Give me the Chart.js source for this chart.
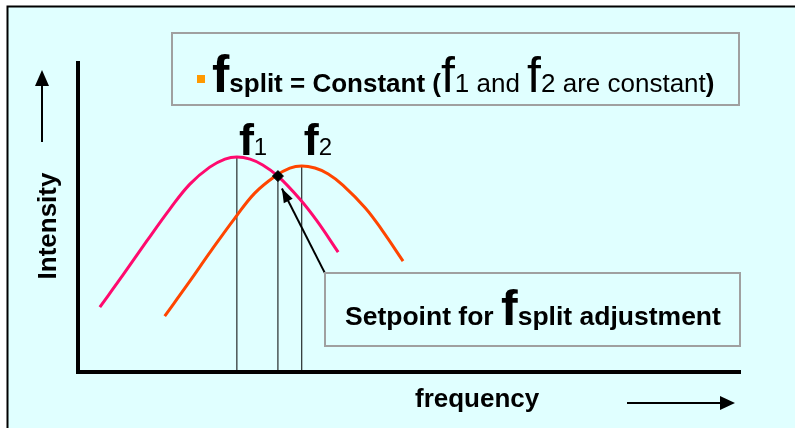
<!DOCTYPE html>
<html>
<head>
<meta charset="utf-8">
<script src="https://cdn.jsdelivr.net/npm/chart.js@4.4.0/dist/chart.umd.min.js"></script>
<style>
  html, body { margin: 0; padding: 0; background: #fff; }
  #wrap { width: 795px; height: 428px; }
</style>
</head>
<body>
<div id="wrap"><canvas id="c" width="795" height="428"></canvas></div>
<script>
// frequency / intensity in arbitrary units (0..100)
const f1CurveX = [3.3, 6.8, 10.4, 13.9, 16.9, 19.9, 22.2, 24.0, 26.0, 27.9, 30.2, 33.5, 36.1, 39.3];
const f1CurveY = [21.0, 31.4, 42.4, 52.8, 60.8, 66.3, 68.9, 69.6, 68.9, 67.0, 63.4, 56.0, 48.9, 38.8];
const f2CurveX = [13.1, 16.6, 20.2, 23.7, 26.7, 29.8, 32.0, 33.8, 35.8, 37.8, 40.0, 43.4, 45.9, 49.1];
const f2CurveY = [18.1, 28.5, 39.5, 49.8, 57.9, 63.4, 66.0, 66.7, 66.0, 64.1, 60.5, 53.1, 46.0, 35.9];

const f1 = { x: 24.0, y: 69.6 };
const f2 = { x: 33.8, y: 66.7 };
const setpoint = { x: 30.2, y: 63.4 };
const arrowTail = { x: 37.3, y: 32.0 };
const arrowTip = { x: 30.8, y: 59.4 };

const toPoints = (xs, ys) => xs.map((x, i) => ({ x: x, y: ys[i] }));
const stem = p => [{ x: p.x, y: 0 }, { x: p.x, y: p.y }];

const FONT = '"Liberation Sans", Arial, sans-serif';

function drawRuns(ctx, x, y, runs) {
    ctx.textBaseline = 'alphabetic';
    ctx.textAlign = 'left';
    runs.forEach(r => {
        ctx.font = r.font + ' ' + FONT;
        ctx.fillText(r.t, x, y);
        x += ctx.measureText(r.t).width;
    });
    return x;
}

function arrowHead(ctx, x1, y1, x2, y2, len, half) {
    const a = Math.atan2(y2 - y1, x2 - x1);
    ctx.beginPath();
    ctx.moveTo(x2, y2);
    ctx.lineTo(x2 - len * Math.cos(a) + half * Math.sin(a), y2 - len * Math.sin(a) - half * Math.cos(a));
    ctx.lineTo(x2 - len * Math.cos(a) - half * Math.sin(a), y2 - len * Math.sin(a) + half * Math.cos(a));
    ctx.closePath();
    ctx.fill();
}

function box(ctx, x, y, w, h) {
    ctx.fillStyle = '#e0ffff';
    ctx.fillRect(x, y, w, h);
    ctx.strokeStyle = '#a0a0a0';
    ctx.lineWidth = 2;
    ctx.strokeRect(x, y, w, h);
}

const slidePlugin = {
    id: 'slide',
    beforeDraw(chart) {
        const ctx = chart.ctx;
        ctx.save();
        ctx.fillStyle = '#fff';
        ctx.fillRect(0, 0, chart.width, chart.height);
        ctx.fillStyle = '#e0ffff';
        ctx.fillRect(8, 7, chart.width - 8, chart.height - 7);
        ctx.strokeStyle = '#000';
        ctx.lineWidth = 2;
        ctx.beginPath();
        ctx.moveTo(7.5, chart.height);
        ctx.lineTo(7.5, 6.5);
        ctx.lineTo(chart.width, 6.5);
        ctx.stroke();
        ctx.restore();
    },
    afterDatasetsDraw(chart) {
        const ctx = chart.ctx;
        const xs = chart.scales.x, ys = chart.scales.y;
        ctx.save();
        ctx.fillStyle = '#000';

        // peak labels
        drawRuns(ctx, xs.getPixelForValue(f1.x) + 2, ys.getPixelForValue(f1.y) - 2,
            [{ t: 'f', font: 'bold 45px' }, { t: '1', font: '24px' }]);
        drawRuns(ctx, xs.getPixelForValue(f2.x) + 2, ys.getPixelForValue(f2.y) - 11,
            [{ t: 'f', font: 'bold 45px' }, { t: '2', font: '24px' }]);

        // top box
        box(ctx, 172, 33, 567, 72);
        ctx.fillStyle = '#ff9900';
        ctx.fillRect(197, 75, 8, 8);
        ctx.fillStyle = '#000';
        drawRuns(ctx, 212, 92, [
            { t: 'f', font: 'bold 52px' },
            { t: 'split', font: 'bold 26px' },
            { t: ' = Constant (', font: 'bold 26px' },
            { t: 'f', font: '50px' },
            { t: '1 and ', font: '26px' },
            { t: 'f', font: '50px' },
            { t: '2 are constant', font: '26px' },
            { t: ')', font: 'bold 26px' }
        ]);

        // setpoint box + arrow
        const tx = xs.getPixelForValue(arrowTail.x), ty = ys.getPixelForValue(arrowTail.y);
        const hx = xs.getPixelForValue(arrowTip.x), hy = ys.getPixelForValue(arrowTip.y);
        ctx.strokeStyle = '#000';
        ctx.lineWidth = 2;
        ctx.beginPath();
        ctx.moveTo(tx, ty);
        ctx.lineTo(hx, hy);
        ctx.stroke();
        arrowHead(ctx, tx, ty, hx, hy, 14, 5);

        box(ctx, 325, 273, 415, 73);
        ctx.fillStyle = '#000';
        drawRuns(ctx, 345, 325, [
            { t: 'Setpoint for ', font: 'bold 26.5px' },
            { t: 'f', font: 'bold 50px' },
            { t: 'split adjustment', font: 'bold 26.5px' }
        ]);

        // axis titles with arrows
        ctx.save();
        ctx.translate(56, 226);
        ctx.rotate(-Math.PI / 2);
        ctx.font = 'bold 26px ' + FONT;
        ctx.textAlign = 'center';
        ctx.textBaseline = 'alphabetic';
        ctx.fillText('Intensity', 0, 0);
        ctx.restore();
        ctx.strokeStyle = '#000';
        ctx.lineWidth = 2;
        ctx.beginPath();
        ctx.moveTo(42, 142);
        ctx.lineTo(42, 84);
        ctx.stroke();
        arrowHead(ctx, 42, 142, 42, 70, 16, 7);

        ctx.font = 'bold 26px ' + FONT;
        ctx.textAlign = 'left';
        ctx.fillText('frequency', 415, 407);
        ctx.beginPath();
        ctx.moveTo(627, 403);
        ctx.lineTo(722, 403);
        ctx.stroke();
        arrowHead(ctx, 627, 403, 735, 403, 15, 7);
        ctx.restore();
    }
};

const stemStyle = { borderColor: '#000', borderWidth: 1, pointRadius: 0, showLine: true, order: 5 };

new Chart(document.getElementById('c'), {
    type: 'scatter',
    data: {
        datasets: [
            { label: 'f1', data: stem(f1), ...stemStyle },
            { label: 'setpoint', data: stem(setpoint), ...stemStyle },
            { label: 'f2', data: stem(f2), ...stemStyle },
            {
                label: 'Intensity f1', data: toPoints(f1CurveX, f1CurveY),
                showLine: true, borderColor: '#ff0a6e', borderWidth: 3, pointRadius: 0,
                tension: 0.4, order: 3
            },
            {
                label: 'Intensity f2', data: toPoints(f2CurveX, f2CurveY),
                showLine: true, borderColor: '#ff4500', borderWidth: 3, pointRadius: 0,
                tension: 0.4, order: 2
            },
            {
                label: 'Setpoint', data: [setpoint],
                pointStyle: 'rectRot', pointRadius: 5.5, backgroundColor: '#000', borderColor: '#000', order: 1
            }
        ]
    },
    options: {
        responsive: false,
        animation: false,
        events: [],
        layout: { padding: { left: 78, right: 55, top: 63, bottom: 56 } },
        plugins: { legend: { display: false }, tooltip: { enabled: false } },
        scales: {
            x: {
                type: 'linear', min: 0, max: 100,
                grid: { display: false }, ticks: { display: false },
                border: { display: true, width: 4, color: '#000' },
                afterFit: s => { s.height = 0; }
            },
            y: {
                type: 'linear', min: 0, max: 100,
                grid: { display: false }, ticks: { display: false },
                border: { display: true, width: 4, color: '#000' },
                afterFit: s => { s.width = 0; }
            }
        }
    },
    plugins: [slidePlugin]
});
</script>
</body>
</html>
